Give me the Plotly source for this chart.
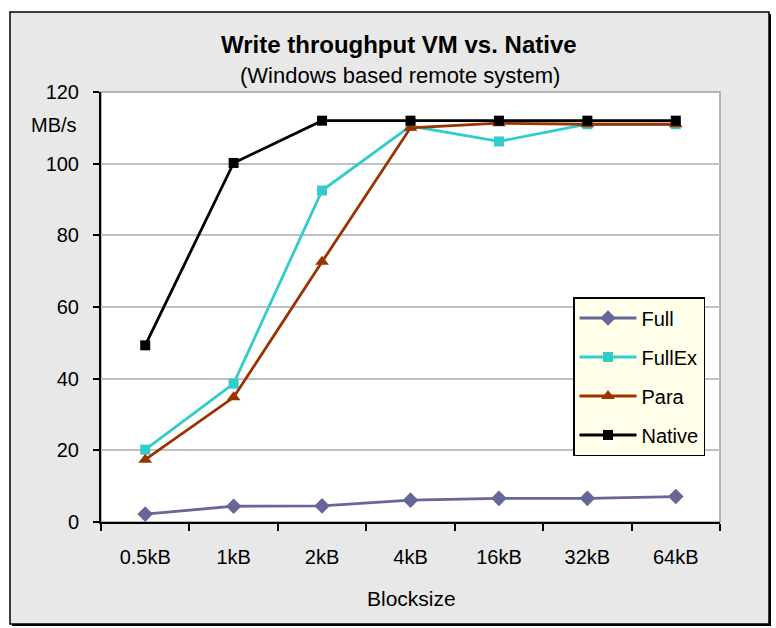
import plotly.graph_objects as go

categories = ["0.5kB", "1kB", "2kB", "4kB", "16kB", "32kB", "64kB"]
full = [2.2, 4.4, 4.5, 6.1, 6.6, 6.6, 7.1]
fullex = [20.2, 38.6, 92.5, 110.5, 106.2, 111.0, 111.0]
para = [17.4, 34.8, 72.6, 110.0, 111.3, 111.0, 111.0]
native = [49.3, 100.2, 112.0, 112.0, 112.0, 112.0, 112.0]

W, H = 776, 628
L, R, T, B = 101, 720, 92, 522
PW, PH = R - L, B - T


def px(x):
    return (x - L) / PW


def py(y):
    return (B - y) / PH


FONT = "Liberation Sans, Arial, sans-serif"

series = [
    ("Full", full, "#666699", "diamond", 12),
    ("FullEx", fullex, "#33CCCC", "square", 10),
    ("Para", para, "#993300", "triangle-up", 12),
    ("Native", native, "#000000", "square", 10),
]

fig = go.Figure()
for name, vals, col, sym, sz in series:
    fig.add_trace(go.Scatter(
        x=categories, y=vals, name=name, mode="lines+markers",
        line=dict(color=col, width=2.8),
        marker=dict(symbol=sym, size=sz, color=col, line=dict(width=0)),
        legendgroup=name,
    ))

shapes = [
    # shadow
    dict(type="rect", xref="paper", yref="paper", layer="below",
         x0=px(12), x1=px(771), y0=py(626), y1=py(14),
         fillcolor="#000000", line=dict(width=0)),
    # frame
    dict(type="rect", xref="paper", yref="paper", layer="below",
         x0=px(10), x1=px(769), y0=py(624), y1=py(12),
         fillcolor="#e8e8e8", line=dict(color="#000000", width=1.5)),
    # plot area
    dict(type="rect", xref="paper", yref="paper", layer="below",
         x0=0, x1=1, y0=0, y1=1,
         fillcolor="#ffffff", line=dict(color="#a0a0a0", width=1.5)),
]

annotations = [
    dict(text="<b>Write throughput VM vs. Native</b>", x=px(399), y=py(45),
         xref="paper", yref="paper", showarrow=False, xanchor="center", yanchor="middle",
         font=dict(family=FONT, size=24, color="#000000")),
    dict(text="(Windows based remote system)", x=px(400), y=py(76),
         xref="paper", yref="paper", showarrow=False, xanchor="center", yanchor="middle",
         font=dict(family=FONT, size=22, color="#000000")),
    dict(text="MB/s", x=px(79), y=py(125),
         xref="paper", yref="paper", showarrow=False, xanchor="right", yanchor="middle",
         font=dict(family=FONT, size=20, color="#000000")),
    dict(text="Blocksize", x=px(411), y=py(598),
         xref="paper", yref="paper", showarrow=False, xanchor="center", yanchor="middle",
         font=dict(family=FONT, size=21, color="#000000")),
]

fig.update_layout(
    width=W, height=H,
    margin=dict(l=L, r=W - R, t=T, b=H - B, pad=0),
    paper_bgcolor="#ffffff",
    plot_bgcolor="rgba(0,0,0,0)",
    font=dict(family=FONT, size=20, color="#000000"),
    shapes=shapes,
    annotations=annotations,
    showlegend=True,
    legend=dict(
        x=px(573), y=py(297), xanchor="left", yanchor="top",
        bgcolor="#ffffea", bordercolor="#000000", borderwidth=1.5,
        font=dict(family=FONT, size=20, color="#000000"),
        tracegroupgap=10, itemwidth=57,
    ),
    xaxis=dict(
        type="category", range=[-0.5, 6.5], tickson="boundaries",
        showgrid=False, zeroline=False,
        showline=True, linecolor="#000000", linewidth=2,
        ticks="outside", ticklen=7, tickcolor="#000000", tickwidth=1.5,
        ticklabelstandoff=16,
        tickfont=dict(family=FONT, size=20, color="#000000"),
    ),
    yaxis=dict(
        range=[0, 120], tickvals=[0, 20, 40, 60, 80, 100, 120],
        showgrid=True, gridcolor="#c0c0c0", gridwidth=1.5, zeroline=False,
        showline=True, linecolor="#000000", linewidth=2,
        ticks="outside", ticklen=6, tickcolor="#000000", tickwidth=1.5,
        ticklabelstandoff=10,
        tickfont=dict(family=FONT, size=20, color="#000000"),
    ),
)

fig.write_html("out.html")
